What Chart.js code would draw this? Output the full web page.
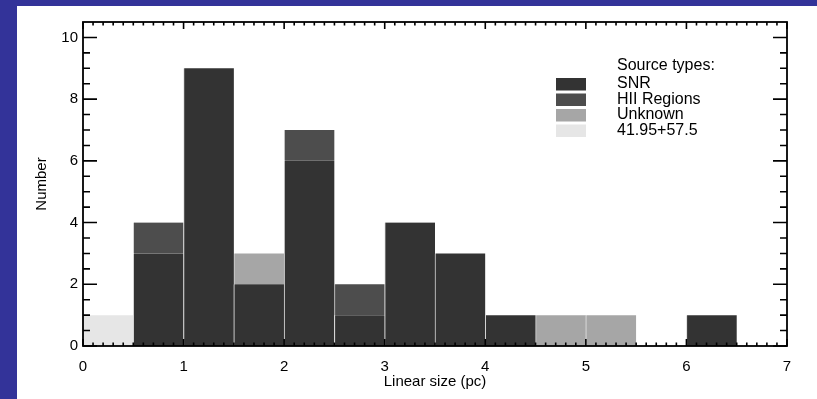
<!DOCTYPE html>
<html>
<head>
<meta charset="utf-8">
<script src="https://cdn.jsdelivr.net/npm/chart.js@4/dist/chart.umd.min.js"></script>
<style>
  html, body { margin: 0; padding: 0; }
  body { width: 817px; height: 399px; background: #333399; position: relative; overflow: hidden; }
  #wrap { position: absolute; left: 17px; top: 6px; width: 800px; height: 393px; background: #fff; }
</style>
</head>
<body>
<div id="wrap"><canvas id="hist"></canvas></div>
<script>
// bins of 0.5 pc
var categories = ['0.0-0.5', '0.5-1.0', '1.0-1.5', '1.5-2.0', '2.0-2.5', '2.5-3.0', '3.0-3.5',
                  '3.5-4.0', '4.0-4.5', '4.5-5.0', '5.0-5.5', '5.5-6.0', '6.0-6.5', '6.5-7.0'];
var snr     = [0, 3, 9, 2, 6, 1, 4, 3, 1, 0, 0, 0, 1, 0];
var hii     = [0, 1, 0, 0, 1, 1, 0, 0, 0, 0, 0, 0, 0, 0];
var unknown = [0, 0, 0, 1, 0, 0, 0, 0, 0, 1, 1, 0, 0, 0];
var other   = [1, 0, 0, 0, 0, 0, 0, 0, 0, 0, 0, 0, 0, 0];
var xTicks = [0, 1, 2, 3, 4, 5, 6, 7];
var yTicks = [0, 2, 4, 6, 8, 10];

var FONT = 'Liberation Sans, Arial, Helvetica, sans-serif';

function ds(label, data, color) {
    return {
        label: label,
        data: data,
        backgroundColor: color,
        borderColor: '#dcdcdc',
        borderWidth: { left: 1, right: 0, top: 0, bottom: 0 },
        borderSkipped: false,
        barPercentage: 1,
        categoryPercentage: 1,
        xAxisID: 'x'
    };
}

// IDL style box with inward ticks + legend inside the plot
var idlAxes = {
    id: 'idlAxes',
    afterDatasetsDraw: function(chart) {
        var ctx = chart.ctx;
        var a = chart.chartArea;
        var xs = chart.scales.x2, ys = chart.scales.y;
        ctx.save();
        ctx.strokeStyle = '#000';
        ctx.lineWidth = 1.6;
        ctx.beginPath();
        for (var i = 0; i <= 70; i++) {
            var px = xs.getPixelForValue(i / 10);
            var len = (i % 10 === 0) ? 7 : 3.5;
            ctx.moveTo(px, a.bottom); ctx.lineTo(px, a.bottom - len);
            ctx.moveTo(px, a.top); ctx.lineTo(px, a.top + len);
        }
        for (var j = 0; j <= 20; j++) {
            var py = ys.getPixelForValue(j * 0.5);
            var l = (j % 4 === 0) ? 14 : 7;
            ctx.moveTo(a.left, py); ctx.lineTo(a.left + l, py);
            ctx.moveTo(a.right, py); ctx.lineTo(a.right - l, py);
        }
        ctx.stroke();
        ctx.lineWidth = 1.8;
        ctx.strokeRect(a.left, a.top, a.right - a.left, a.bottom - a.top);

        // legend
        ctx.font = '16px ' + FONT;
        ctx.fillStyle = '#000';
        ctx.textBaseline = 'middle';
        var tx = a.left + 534, bx = a.left + 473;
        ctx.fillText('Source types:', tx, a.top + 44);
        chart.data.datasets.forEach(function(d, k) {
            var cy = a.top + 62 + k * 15.5;
            ctx.fillStyle = d.backgroundColor;
            ctx.fillRect(bx, cy - 6, 30, 12.5);
            ctx.fillStyle = '#000';
            ctx.fillText(d.label, tx, cy);
        });
        ctx.restore();
    }
};

new Chart(document.getElementById('hist'), {
    type: 'bar',
    data: {
        labels: categories,
        datasets: [
            ds('SNR', snr, '#333333'),
            ds('HII Regions', hii, '#4d4d4d'),
            ds('Unknown', unknown, '#a6a6a6'),
            ds('41.95+57.5', other, '#e6e6e6')
        ]
    },
    options: {
        responsive: true,
        maintainAspectRatio: false,
        animation: false,
        layout: { padding: { top: 16, right: 30, left: 0, bottom: 0 } },
        plugins: { legend: { display: false }, tooltip: { enabled: false } },
        scales: {
            x: { type: 'category', stacked: true, display: false, offset: true },
            x2: {
                type: 'linear', position: 'bottom', min: 0, max: 7, offset: false,
                grid: { display: false, drawTicks: false, offset: false }, border: { display: false },
                afterBuildTicks: function(s) { s.ticks = xTicks.map(function(v) { return { value: v }; }); },
                afterFit: function(s) { s.height = 53; },
                ticks: { color: '#000', padding: 12, maxRotation: 0, font: { family: FONT, size: 15 } },
                title: { display: true, text: 'Linear size (pc)', color: '#000', padding: { top: 0, bottom: 8 },
                         font: { family: FONT, size: 15 } }
            },
            y: {
                stacked: true, min: 0, max: 10.5,
                grid: { display: false, drawTicks: false }, border: { display: false },
                afterBuildTicks: function(s) { s.ticks = yTicks.map(function(v) { return { value: v }; }); },
                afterFit: function(s) { s.width = 66; },
                ticks: { color: '#000', padding: 5, font: { family: FONT, size: 15 } },
                title: { display: true, text: 'Number', color: '#000', padding: { top: 16, bottom: 0 },
                         font: { family: FONT, size: 15 } }
            }
        }
    },
    plugins: [idlAxes]
});
</script>
</body>
</html>
